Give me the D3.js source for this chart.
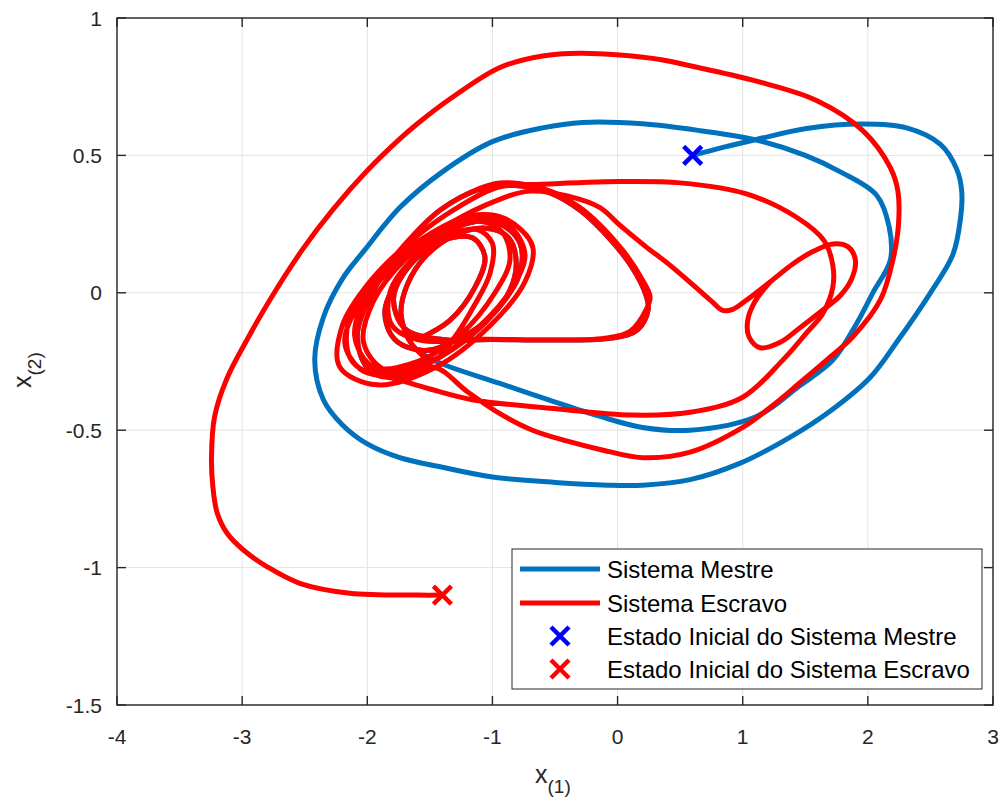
<!DOCTYPE html>
<html>
<head>
<meta charset="utf-8">
<script src="https://cdn.jsdelivr.net/npm/d3@7"></script>
<style>
  body { margin: 0; background: #ffffff; }
  text { font-family: "Liberation Sans", Arial, Helvetica, sans-serif; fill: #262626; }
</style>
</head>
<body>
<svg id="chart" width="1003" height="807"></svg>
<script>
// ---- tick values and labels ----
const xTicks = [-4, -3, -2, -1, 0, 1, 2, 3];
const xTickLabels = ["-4", "-3", "-2", "-1", "0", "1", "2", "3"];
const yTicks = [-1.5, -1, -0.5, 0, 0.5, 1];
const yTickLabels = ["-1.5", "-1", "-0.5", "0", "0.5", "1"];

// ---- initial states ----
const masterStart = [0.6, 0.5];
const slaveStart = [-1.4, -1.1];

// ---- master orbit before it settles on the attractor core ----
const masterLead = [
  [0.60, 0.50], [0.85, 0.53], [1.11, 0.558], [1.51, 0.598], [1.96, 0.614], [2.31, 0.60],
  [2.58, 0.54], [2.71, 0.45], [2.75, 0.37], [2.74, 0.27], [2.68, 0.14], [2.50, 0.00],
  [2.23, -0.18], [2.02, -0.307], [1.70, -0.43], [1.38, -0.525], [0.98, -0.62], [0.58, -0.68],
  [0.20, -0.70], [-0.08, -0.70], [-0.50, -0.69], [-1.00, -0.67], [-1.40, -0.635], [-1.74, -0.60],
  [-2.00, -0.55], [-2.20, -0.48], [-2.35, -0.39], [-2.42, -0.245], [-2.35, -0.088], [-2.20, 0.05],
  [-2.02, 0.156], [-1.74, 0.31], [-1.40, 0.44], [-1.00, 0.55], [-0.60, 0.60], [-0.28, 0.62],
  [0.20, 0.615], [0.66, 0.59], [1.11, 0.556], [1.50, 0.50], [1.78, 0.44], [2.07, 0.355],
  [2.17, 0.24], [2.18, 0.12], [2.04, 0.00], [1.90, -0.12], [1.72, -0.245], [1.45, -0.34],
  [1.11, -0.45], [0.58, -0.50], [0.20, -0.49], [-0.14, -0.45], [-0.55, -0.39], [-0.94, -0.33]
];

// ---- slave orbit: transient from its own initial state ----
const slaveLead = [
  [-1.40, -1.10], [-1.60, -1.10], [-2.14, -1.093], [-2.54, -1.057], [-2.80, -0.997], [-2.99, -0.936],
  [-3.12, -0.875], [-3.20, -0.80], [-3.235, -0.70], [-3.245, -0.60], [-3.22, -0.45], [-3.12, -0.31],
  [-2.96, -0.17], [-2.78, -0.027], [-2.52, 0.156], [-2.28, 0.30],
  [-2.00, 0.445], [-1.74, 0.56], [-1.60, 0.615], [-1.34, 0.705], [-0.94, 0.82], [-0.60, 0.862],
  [-0.30, 0.872], [0.02, 0.865], [0.35, 0.848], [0.66, 0.818], [1.11, 0.77], [1.59, 0.70],
  [1.96, 0.59], [2.18, 0.455], [2.24, 0.37], [2.245, 0.25], [2.20, 0.12], [2.10, -0.026],
  [1.88, -0.16], [1.67, -0.245], [1.45, -0.33], [1.24, -0.41], [1.00, -0.49], [0.58, -0.58],
  [0.20, -0.60], [-0.14, -0.57], [-0.40, -0.54], [-0.68, -0.50], [-0.94, -0.44], [-1.20, -0.36],
  [-1.47, -0.27],
  [-1.80, -0.31], [-2.12, -0.25], [-2.15, -0.10], [-1.92, 0.06], [-1.55, 0.20], [-1.18, 0.28],
  [-0.90, 0.27], [-0.68, 0.17], [-0.74, 0.04], [-1.02, -0.12], [-1.45, -0.27], [-1.92, -0.335],
  [-2.22, -0.27], [-2.20, -0.12], [-1.98, 0.04], [-1.62, 0.20], [-1.28, 0.31], [-0.95, 0.385],
  [-0.60, 0.395], [0.02, 0.405], [0.50, 0.40], [1.03, 0.36], [1.43, 0.275], [1.65, 0.19],
  [1.72, 0.10], [1.72, 0.02], [1.64, -0.075], [1.51, -0.146], [1.32, -0.245], [1.00, -0.38],
  [0.58, -0.435], [0.12, -0.445], [-0.54, -0.42], [-1.15, -0.39], [-1.50, -0.35], [-1.80, -0.31],
  [-2.05, -0.28], [-2.18, -0.18], [-2.05, -0.03], [-1.78, 0.10], [-1.45, 0.22], [-1.12, 0.27],
  [-0.86, 0.24], [-0.74, 0.14], [-0.84, 0.02], [-1.10, -0.12], [-1.50, -0.25], [-1.86, -0.28],
  [-2.03, -0.18], [-1.95, -0.03], [-1.70, 0.12], [-1.38, 0.23], [-1.10, 0.26], [-0.92, 0.22],
  [-0.86, 0.12], [-0.98, 0.00], [-1.25, -0.15], [-1.60, -0.25], [-1.95, -0.27], [-2.10, -0.16],
  [-2.00, 0.00], [-1.75, 0.15], [-1.42, 0.30], [-1.10, 0.38], [-0.94, 0.40],
  [-0.60, 0.38], [-0.30, 0.31], [0.04, 0.155], [0.20, 0.046], [0.26, -0.015], [0.23, -0.06],
  [0.10, -0.14], [-0.10, -0.165], [-0.60, -0.172], [-1.20, -0.168],
  [-1.55, -0.175], [-1.80, -0.12], [-1.82, 0.00], [-1.62, 0.13], [-1.35, 0.21], [-1.12, 0.23],
  [-1.00, 0.18], [-1.02, 0.07], [-1.15, -0.05], [-1.30, -0.16]
];

// ---- slave excursion to the right-hand loop ----
const slaveSpur = [
  [-2.05, -0.03], [-1.78, 0.10], [-1.45, 0.22], [-1.05, 0.32], [-0.70, 0.37], [-0.38, 0.35],
  [-0.14, 0.31], [0.02, 0.245], [0.22, 0.17], [0.42, 0.10], [0.60, 0.03], [0.75, -0.03],
  [0.84, -0.064], [0.92, -0.06], [1.02, -0.03], [1.22, 0.04], [1.40, 0.105], [1.56, 0.15],
  [1.72, 0.178], [1.84, 0.168], [1.90, 0.12], [1.87, 0.05], [1.78, -0.01], [1.62, -0.07],
  [1.45, -0.13], [1.30, -0.18], [1.14, -0.20], [1.05, -0.16], [1.04, -0.10], [1.10, -0.03],
  [1.22, 0.04]
];

// ---- common part once both systems are synchronised ----
const syncTail = [
  [-1.47, -0.245], [-1.64, -0.19], [-1.73, -0.08], [-1.68, 0.03], [-1.52, 0.14], [-1.30, 0.21],
  [-1.05, 0.235], [-0.87, 0.20], [-0.81, 0.11], [-0.86, 0.01], [-1.02, -0.09], [-1.28, -0.17],
  [-1.55, -0.21], [-1.78, -0.17], [-1.86, -0.07], [-1.74, 0.06], [-1.50, 0.18], [-1.22, 0.25],
  [-0.96, 0.255], [-0.78, 0.18], [-0.79, 0.06], [-0.98, -0.07], [-1.30, -0.20], [-1.68, -0.285],
  [-1.98, -0.28], [-2.08, -0.16], [-1.96, 0.00], [-1.72, 0.16], [-1.42, 0.30], [-1.08, 0.38],
  [-0.82, 0.39], [-0.55, 0.365], [-0.30, 0.30], [-0.05, 0.19], [0.12, 0.09], [0.22, 0.00],
  [0.245, -0.06], [0.16, -0.135], [-0.05, -0.165], [-0.50, -0.172], [-1.00, -0.17], [-1.40, -0.17],
  [-1.70, -0.13], [-1.79, -0.02], [-1.66, 0.10], [-1.40, 0.19], [-1.16, 0.20], [-1.06, 0.13],
  [-1.14, 0.02], [-1.34, -0.10], [-1.60, -0.17]
];

const legendLabels = [
  "Sistema Mestre",
  "Sistema Escravo",
  "Estado Inicial do Sistema Mestre",
  "Estado Inicial do Sistema Escravo"
];

const masterColor = "#0072BD";
const slaveColor = "#FF0000";
const masterMarkColor = "#0000FF";

// ---- layout ----
const plot = { left: 117, right: 993, top: 18, bottom: 705 };
const svg = d3.select("#chart");
svg.append("rect").attr("width", 1003).attr("height", 807).attr("fill", "#ffffff");

const x = d3.scaleLinear().domain([-4, 3]).range([plot.left, plot.right]);
const y = d3.scaleLinear().domain([-1.5, 1]).range([plot.bottom, plot.top]);

// grid
const grid = svg.append("g").attr("stroke", "#e3e3e3").attr("stroke-width", 1);
grid.selectAll(".gx").data(xTicks).join("line")
  .attr("x1", d => x(d)).attr("x2", d => x(d))
  .attr("y1", plot.top).attr("y2", plot.bottom);
grid.selectAll(".gy").data(yTicks).join("line")
  .attr("y1", d => y(d)).attr("y2", d => y(d))
  .attr("x1", plot.left).attr("x2", plot.right);

// trajectories
const line = d3.line()
  .x(d => x(d[0])).y(d => y(d[1]))
  .curve(d3.curveCatmullRom.alpha(0.5));

const lineWidth = 5;
const curves = svg.append("g")
  .attr("fill", "none")
  .attr("stroke-width", lineWidth)
  .attr("stroke-linejoin", "round")
  .attr("stroke-linecap", "round");

curves.append("path").attr("d", line(masterLead.concat(syncTail))).attr("stroke", masterColor);
curves.append("path").attr("d", line(slaveSpur)).attr("stroke", slaveColor);
curves.append("path").attr("d", line(slaveLead.concat(syncTail))).attr("stroke", slaveColor);

// initial-state markers
const cross = "M-9,-9L9,9M-9,9L9,-9";
svg.append("path").attr("d", cross)
  .attr("transform", `translate(${x(masterStart[0])},${y(masterStart[1])})`)
  .attr("stroke", masterMarkColor).attr("stroke-width", 4.5).attr("fill", "none");
svg.append("path").attr("d", cross)
  .attr("transform", `translate(${x(slaveStart[0])},${y(slaveStart[1])})`)
  .attr("stroke", slaveColor).attr("stroke-width", 4.5).attr("fill", "none");

// box and ticks
const axisColor = "#262626";
svg.append("rect")
  .attr("x", plot.left).attr("y", plot.top)
  .attr("width", plot.right - plot.left).attr("height", plot.bottom - plot.top)
  .attr("fill", "none").attr("stroke", axisColor).attr("stroke-width", 1.4);

const tickLen = 9;
const ticks = svg.append("g").attr("stroke", axisColor).attr("stroke-width", 1.4);
xTicks.forEach(v => {
  ticks.append("line").attr("x1", x(v)).attr("x2", x(v)).attr("y1", plot.bottom).attr("y2", plot.bottom - tickLen);
  ticks.append("line").attr("x1", x(v)).attr("x2", x(v)).attr("y1", plot.top).attr("y2", plot.top + tickLen);
});
yTicks.forEach(v => {
  ticks.append("line").attr("y1", y(v)).attr("y2", y(v)).attr("x1", plot.left).attr("x2", plot.left + tickLen);
  ticks.append("line").attr("y1", y(v)).attr("y2", y(v)).attr("x1", plot.right).attr("x2", plot.right - tickLen);
});

// tick labels
const tickFont = 21;
svg.append("g").selectAll("text").data(xTicks).join("text")
  .attr("x", d => x(d)).attr("y", plot.bottom + 39)
  .attr("text-anchor", "middle").attr("font-size", tickFont)
  .text((d, i) => xTickLabels[i]);
svg.append("g").selectAll("text").data(yTicks).join("text")
  .attr("x", plot.left - 15).attr("y", d => y(d)).attr("dy", "0.36em")
  .attr("text-anchor", "end").attr("font-size", tickFont)
  .text((d, i) => yTickLabels[i]);

// axis labels
const xl = svg.append("text").attr("x", 535).attr("y", 783).attr("font-size", 25);
xl.append("tspan").text("x");
xl.append("tspan").attr("font-size", 19).attr("dy", 10).text("(1)");

const yl = svg.append("text").attr("transform", "translate(31,388) rotate(-90)").attr("font-size", 25);
yl.append("tspan").text("x");
yl.append("tspan").attr("font-size", 19).attr("dy", 10).text("(2)");

// legend
const lg = svg.append("g");
lg.append("rect").attr("x", 512).attr("y", 549).attr("width", 470).attr("height", 140)
  .attr("fill", "#ffffff").attr("stroke", axisColor).attr("stroke-width", 1);
const rowY = [569, 603, 636, 669];
lg.append("line").attr("x1", 520).attr("x2", 600).attr("y1", rowY[0]).attr("y2", rowY[0])
  .attr("stroke", masterColor).attr("stroke-width", lineWidth);
lg.append("line").attr("x1", 520).attr("x2", 600).attr("y1", rowY[1]).attr("y2", rowY[1])
  .attr("stroke", slaveColor).attr("stroke-width", lineWidth);
lg.append("path").attr("d", cross).attr("transform", `translate(560,${rowY[2]})`)
  .attr("stroke", masterMarkColor).attr("stroke-width", 4.5).attr("fill", "none");
lg.append("path").attr("d", cross).attr("transform", `translate(560,${rowY[3]})`)
  .attr("stroke", slaveColor).attr("stroke-width", 4.5).attr("fill", "none");
lg.selectAll(".lt").data(legendLabels).join("text")
  .attr("x", 607).attr("y", (d, i) => rowY[i]).attr("dy", "0.36em")
  .attr("font-size", 24).style("fill", "#000000")
  .text(d => d);
</script>
</body>
</html>
